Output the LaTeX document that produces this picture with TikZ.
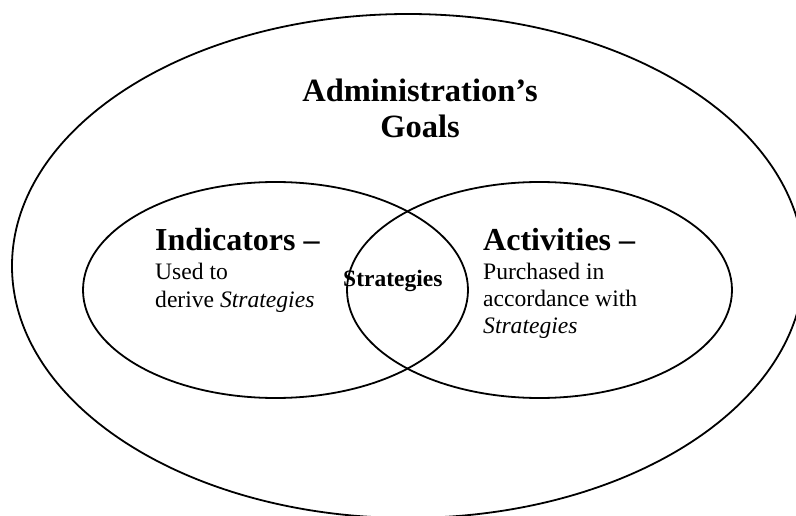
\documentclass[tikz,border=0pt]{standalone}
\usepackage{fontspec}
\setmainfont{Liberation Serif}
\usetikzlibrary{shapes.geometric}
\begin{document}
\begin{tikzpicture}[x=1pt,y=-1pt,
  ring/.style={draw=black,line width=1.8pt,ellipse,inner sep=0pt},
  head/.style={inner sep=0pt,anchor=base west,font=\fontsize{32}{36}\selectfont\bfseries},
  body/.style={inner sep=0pt,anchor=base west,align=left,font=\fontsize{23.6}{28}\selectfont}]
\useasboundingbox (0,0) rectangle (796,516);
\clip (0,0) rectangle (796,516);
\node[ring,minimum width=792pt,minimum height=504pt] (goals) at (408,266) {};
\node[ring,minimum width=385pt,minimum height=216pt] (ind) at (275.5,290) {};
\node[ring,minimum width=385pt,minimum height=216pt] (act) at (539.5,290) {};
\node[inner sep=0pt,anchor=base,align=center,font=\fontsize{32.5}{36}\selectfont\bfseries] (title) at (420,138) {Administration’s\\Goals};
\node[head] (indh) at (155,251) {Indicators –};
\node[body] (indb) at (155,307) {Used to\\derive \textit{Strategies}};
\node[head] (acth) at (483,251) {Activities –};
\node[body,font=\fontsize{23.6}{27}\selectfont] (actb) at (483,333) {Purchased in\\accordance with\\\textit{Strategies}};
\node[inner sep=0pt,anchor=base west,font=\fontsize{23.5}{28}\selectfont\bfseries] (strat) at (343,286) {Strategies};
\end{tikzpicture}
\end{document}
